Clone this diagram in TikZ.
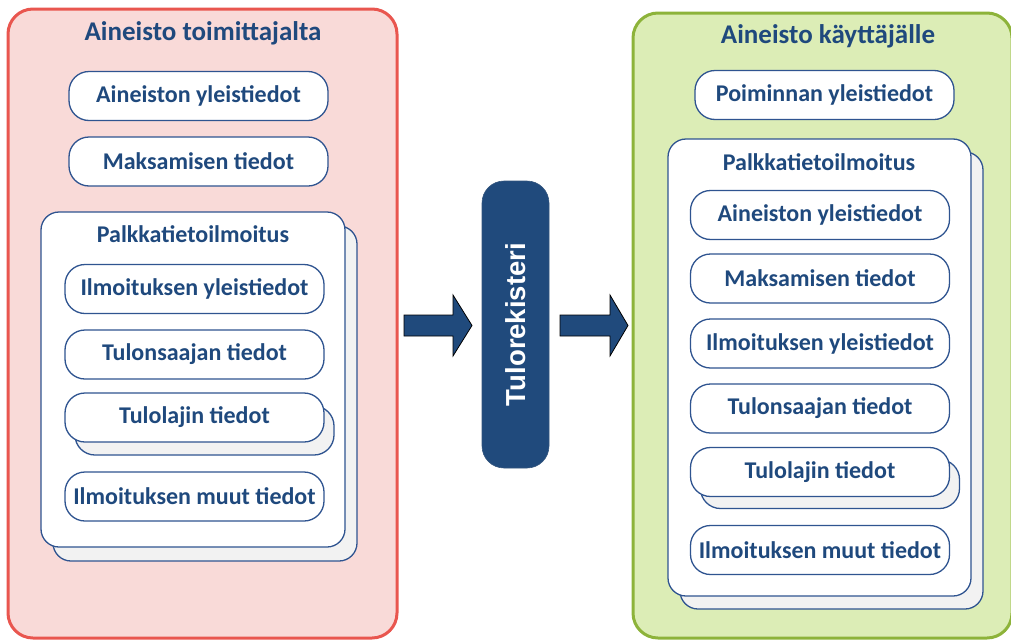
\documentclass[tikz,border=0pt]{standalone}
\usepackage{fontspec}
\setmainfont{Carlito}
\newfontfamily\arialfont{Liberation Sans}
\definecolor{txtblue}{HTML}{1F497D}
\definecolor{lineblue}{HTML}{2F5490}
\definecolor{redline}{HTML}{E9564F}
\definecolor{redfill}{HTML}{F9DAD8}
\definecolor{greenline}{HTML}{8DB33A}
\definecolor{greenfill}{HTML}{DCEDB6}
\definecolor{shadowgrey}{HTML}{F2F2F2}
\definecolor{regblue}{HTML}{204A7C}
\tikzset{
  bigbox/.style={line width=3pt, rounded corners=25pt},
  pill/.style={draw=lineblue, line width=1.3pt, fill=white, rounded corners=20pt,
    minimum width=259pt, minimum height=49pt, inner sep=0pt,
    font=\fontsize{24}{28}\selectfont\bfseries, text=txtblue},
  pillshadow/.style={pill, fill=shadowgrey},
  frame/.style={draw=lineblue, line width=1.3pt, fill=white, rounded corners=18pt, inner sep=0pt},
  frameshadow/.style={frame, fill=shadowgrey},
  title/.style={font=\fontsize{27}{32}\selectfont\bfseries, text=txtblue, inner sep=0pt},
  subtitle/.style={font=\fontsize{24}{28}\selectfont\bfseries, text=txtblue, inner sep=0pt},
  blockarrow/.style={fill=regblue, draw=black, line width=0.8pt},
}
\begin{document}
\begin{tikzpicture}[x=1pt,y=-1pt]
\useasboundingbox (0,0) rectangle (1011,640);
\begin{scope}
\clip (0,0) rectangle (1011,640);
% big containers
\draw[bigbox, draw=redline, fill=redfill] (8,9) rectangle (397,638);
\draw[bigbox, draw=greenline, fill=greenfill] (633,13) rectangle (1012,638);
\end{scope}
\node[title] (lt) at (203,33) {Aineisto toimittajalta};
\node[title] (rt) at (828,36) {Aineisto käyttäjälle};
% left side
\node[pill] (la1) at (198.5,96) {Aineiston yleistiedot};
\node[pill] (la2) at (198.5,161.5) {Maksamisen tiedot};
\node[frameshadow, minimum width=304pt, minimum height=335pt] (lfs) at (205,393.5) {};
\node[frame, minimum width=304pt, minimum height=335pt] (lf) at (193,379.5) {};
\node[subtitle] (lft) at (193,234) {Palkkatietoilmoitus};
\node[pill] (lb1) at (194.5,289) {Ilmoituksen yleistiedot};
\node[pill] (lb2) at (194.5,354.5) {Tulonsaajan tiedot};
\node[pillshadow] (lb3s) at (204.5,430.5) {};
\node[pill] (lb3) at (194.5,417.5) {Tulolajin tiedot};
\node[pill] (lb4) at (194.5,496.5) {Ilmoituksen muut tiedot};
% middle
\node[fill=regblue, draw=regblue!80!gray, line width=0.6pt, rounded corners=22pt,
  minimum width=67pt, minimum height=287pt, inner sep=0pt] (reg) at (515.5,324.5) {};
\node[rotate=90, text=white, font=\arialfont\fontsize{27.5}{32}\selectfont\bfseries] (regt) at (reg.center) {Tulorekisteri};
\draw[blockarrow] (404,315) -- (453,315) -- (453,295) -- (472,325.5) -- (453,356) -- (453,336) -- (404,336) -- cycle;
\draw[blockarrow] (560,315) -- (610,315) -- (610,295) -- (628,325.5) -- (610,356) -- (610,336) -- (560,336) -- cycle;
% right side
\node[pill] (ra1) at (824.5,95) {Poiminnan yleistiedot};
\node[frameshadow, minimum width=303pt, minimum height=457pt] (rfs) at (831.5,380.5) {};
\node[frame, minimum width=303pt, minimum height=457pt] (rf) at (819.5,367.5) {};
\node[subtitle] (rft) at (819,162) {Palkkatietoilmoitus};
\node[pill] (rb1) at (820,215) {Aineiston yleistiedot};
\node[pill] (rb2) at (820,278.5) {Maksamisen tiedot};
\node[pill] (rb3) at (820,343.5) {Ilmoituksen yleistiedot};
\node[pill] (rb4) at (820,408.5) {Tulonsaajan tiedot};
\node[pillshadow] (rb5s) at (830,484) {};
\node[pill] (rb5) at (820,472) {Tulolajin tiedot};
\node[pill] (rb6) at (820,550) {Ilmoituksen muut tiedot};
\end{tikzpicture}
\end{document}
